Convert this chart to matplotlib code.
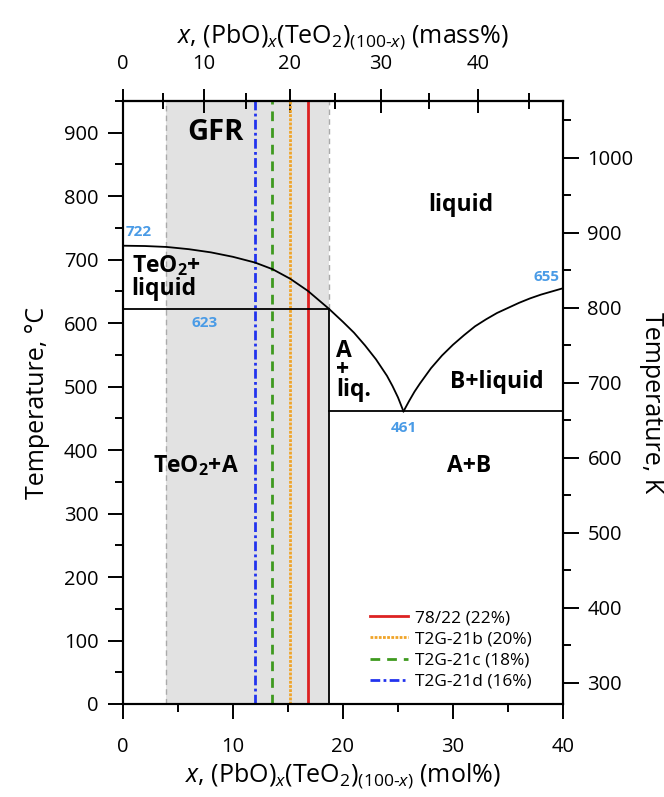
import numpy as np
import matplotlib
matplotlib.use("Agg")
import matplotlib.pyplot as plt
from matplotlib.ticker import MultipleLocator, FixedLocator

plt.rcParams['font.family'] = ['Open Sans', 'DejaVu Sans']
plt.rcParams['mathtext.fontset'] = 'custom'
plt.rcParams['mathtext.rm'] = 'Open Sans'
plt.rcParams['mathtext.it'] = 'Open Sans:italic'
plt.rcParams['mathtext.bf'] = 'Open Sans:bold'

# phase diagram data (mol% PbO, temperature in C)
liq_left_x = [0, 2, 4, 6, 8, 10, 12, 13.6, 15.2, 16.8, 18.7, 20, 21, 22, 23, 24, 24.5, 25, 25.5]
liq_left_T = [722, 721.5, 720, 716.5, 711.5, 704.5, 695.5, 685, 670, 651, 623, 602, 585, 565, 543, 517, 501, 483, 461]
liq_right_x = [25.5, 26, 26.5, 27, 28, 29, 30, 31, 32, 33, 34, 35, 36, 37, 38, 39, 40]
liq_right_T = [461, 477, 492, 505, 529, 549, 566, 581, 595, 606, 616, 624, 632, 639, 645, 650, 655]
T_peritectic = 623
T_eutectic = 461
x_compound_A = 18.7
x_eutectic = 25.5
gfr_range = [3.9, 18.7]

# samples (mass% PbO)
sample_names = ['78/22 (22%)', 'T2G-21b (20%)', 'T2G-21c (18%)', 'T2G-21d (16%)']
sample_mass = [22, 20, 18, 16]
sample_colors = ['#dd2222', '#f0a428', '#3f9a1f', '#2233ee']
sample_styles = ['-', (0, (1, 0.5)), (0, (3.5, 2.5)), (0, (3.5, 1.2, 1, 1.2))]

M_PBO = 223.2
M_TEO2 = 159.6


def mass2mol(w):
    w = np.asarray(w, dtype=float) / 100.0
    a = w / M_PBO
    b = (1 - w) / M_TEO2
    return 100.0 * a / (a + b)


def mol2mass(x):
    x = np.asarray(x, dtype=float) / 100.0
    a = x * M_PBO
    b = (1 - x) * M_TEO2
    return 100.0 * a / (a + b)


fig = plt.figure(figsize=(6.64, 7.97), dpi=100)
ax = fig.add_axes([0.185, 0.1167, 0.663, 0.7566])

ax.axvspan(gfr_range[0], gfr_range[1], color='#e2e2e2', zorder=0, lw=0)
ax.axvline(gfr_range[0], color='#aaaaaa', ls=(0, (4, 3)), lw=1, zorder=1)
ax.plot([gfr_range[1], gfr_range[1]], [T_peritectic, 950], color='#aaaaaa', ls=(0, (4, 3)), lw=1, zorder=1)

for name, w, c, s in zip(sample_names, sample_mass, sample_colors, sample_styles):
    xm = float(mass2mol(w))
    ax.plot([xm, xm], [0, 950], color=c, ls=s, lw=2.0, label=name, zorder=2)

ax.plot(liq_left_x, liq_left_T, color='k', lw=1.3, zorder=3)
ax.plot(liq_right_x, liq_right_T, color='k', lw=1.3, zorder=3)
ax.plot([0, x_compound_A], [T_peritectic, T_peritectic], color='k', lw=1.3, zorder=3)
ax.plot([x_compound_A, 40], [T_eutectic, T_eutectic], color='k', lw=1.3, zorder=3)
ax.plot([x_compound_A, x_compound_A], [0, T_peritectic], color='k', lw=1.3, zorder=3)

ax.set_xlim(0, 40)
ax.set_ylim(0, 950)

blue = '#4a9be6'
ax.text(1.4, 744, '722', color=blue, fontsize=11, fontweight='bold', ha='center', va='center')
ax.text(7.4, 600, '623', color=blue, fontsize=11, fontweight='bold', ha='center', va='center')
ax.text(x_eutectic, 435, '461', color=blue, fontsize=11, fontweight='bold', ha='center', va='center')
ax.text(38.5, 672, '655', color=blue, fontsize=11, fontweight='bold', ha='center', va='center')

ax.text(8.4, 900, 'GFR', fontsize=21, fontweight='bold', ha='center', va='center')
ax.text(30.7, 786, 'liquid', fontsize=16.5, fontweight='bold', ha='center', va='center')
ax.text(0.8, 673, 'TeO$_\\mathbf{2}$+\nliquid', fontsize=16.5, fontweight='bold', ha='left', va='center', linespacing=0.95)
ax.text(19.4, 526, 'A\n+\nliq.', fontsize=16.5, fontweight='bold', ha='left', va='center', linespacing=0.75)
ax.text(34.0, 508, 'B+liquid', fontsize=16.5, fontweight='bold', ha='center', va='center')
ax.text(6.6, 376, 'TeO$_\\mathbf{2}$+A', fontsize=16.5, fontweight='bold', ha='center', va='center')
ax.text(31.5, 375, 'A+B', fontsize=16.5, fontweight='bold', ha='center', va='center')

leg = ax.legend(loc='lower right', bbox_to_anchor=(0.945, 0.012), frameon=False, fontsize=12.4,
                handlelength=2.2, labelspacing=0.3, handletextpad=0.4, borderaxespad=0)

ax.xaxis.set_major_locator(MultipleLocator(10))
ax.xaxis.set_minor_locator(MultipleLocator(5))
ax.yaxis.set_major_locator(MultipleLocator(100))
ax.yaxis.set_minor_locator(MultipleLocator(50))
ax.tick_params(axis='x', which='major', length=11, width=1.4, labelsize=14.5, direction='out', pad=13)
ax.tick_params(axis='y', which='major', length=10.5, width=1.4, labelsize=14.5, direction='out', pad=7)
ax.tick_params(which='minor', length=6, width=1.4, direction='out')
for sp in ax.spines.values():
    sp.set_linewidth(1.5)

ax.set_xlabel('$x$, (PbO)$_x$(TeO$_2$)$_{(100\\text{-}x)}$ (mol%)', fontsize=18, labelpad=3)
ax.set_ylabel('Temperature, °C', fontsize=18, labelpad=10)

top = ax.secondary_xaxis('top', functions=(mol2mass, mass2mol))
top.xaxis.set_major_locator(FixedLocator([0, 10, 20, 30, 40]))
top.xaxis.set_minor_locator(FixedLocator([5, 15, 25, 35, 45]))
top.tick_params(which='major', length=17, width=1.4, labelsize=14.5, direction='inout', pad=11)
top.tick_params(which='minor', length=12, width=1.4, direction='inout')
top.spines['top'].set_linewidth(1.5)
top.set_xlabel('$x$, (PbO)$_x$(TeO$_2$)$_{(100\\text{-}x)}$ (mass%)', fontsize=18, labelpad=8)

ax2 = ax.twinx()
ax2.set_ylim(272, 1076)
ax2.yaxis.set_major_locator(MultipleLocator(100))
ax2.yaxis.set_minor_locator(MultipleLocator(50))
ax2.tick_params(which='major', length=11.5, width=1.4, labelsize=14.5, direction='out', pad=6)
ax2.tick_params(which='minor', length=6, width=1.4, direction='out')
for sp in ax2.spines.values():
    sp.set_linewidth(1.5)
ax2.set_ylabel('Temperature, K', fontsize=18, rotation=270, labelpad=22)

fig.savefig('out.png', dpi=100)
